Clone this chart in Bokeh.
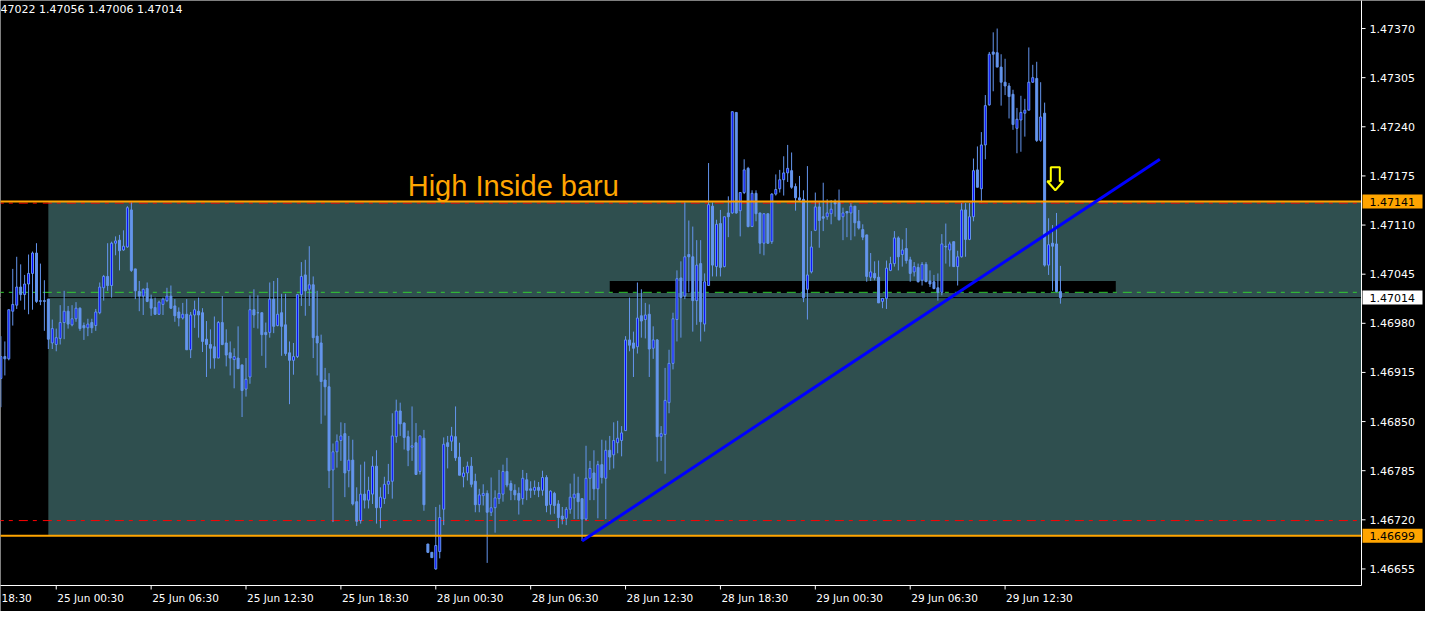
import numpy as np
from bokeh.plotting import figure
from bokeh.models import Range1d, Label, ColumnDataSource
from bokeh.core.properties import value
from bokeh.embed import file_html
from bokeh.resources import INLINE

# ---------------- data (15-minute bars, index 0 = 25 Jun 00:30) ----------------
first_bar = -14

open_ = [
    1.46907, 1.46936, 1.46933, 1.46996, 1.47004, 1.47028, 1.47018, 1.47032, 1.47046, 1.47073, 1.47009, 1.47010, 1.47012, 1.46954,
    1.46952, 1.46960, 1.46981, 1.46996, 1.46978, 1.46986, 1.47000, 1.46977, 1.46974, 1.46981,
    1.46977, 1.46994, 1.47027, 1.47042, 1.47030, 1.47086, 1.47090, 1.47077, 1.47081, 1.47130,
    1.47052, 1.47022, 1.47016, 1.47026, 1.47012, 1.47001, 1.46992, 1.47005, 1.47010, 1.47016,
    1.47003, 1.46995, 1.46987, 1.46992, 1.46945, 1.46991, 1.46996, 1.46994, 1.46959, 1.46952,
    1.46949, 1.46934, 1.46981, 1.46954, 1.46941, 1.46932, 1.46934, 1.46925, 1.46893, 1.46909,
    1.46998, 1.46994, 1.46994, 1.46968, 1.46968, 1.47012, 1.46977, 1.46994, 1.46978, 1.46941,
    1.46931, 1.46936, 1.47018, 1.47044, 1.47025, 1.47031, 1.46963, 1.46954, 1.46905, 1.46896,
    1.46786, 1.46810, 1.46825, 1.46834, 1.46785, 1.46799, 1.46744, 1.46719, 1.46754, 1.46746,
    1.46754, 1.46791, 1.46736, 1.46748, 1.46767, 1.46771, 1.46830, 1.46864, 1.46848, 1.46830,
    1.46816, 1.46822, 1.46784, 1.46828, 1.46688, 1.46677, 1.46655, 1.46678, 1.46734, 1.46822,
    1.46824, 1.46830, 1.46803, 1.46777, 1.46782, 1.46791, 1.46771, 1.46740, 1.46752, 1.46755,
    1.46730, 1.46736, 1.46748, 1.46754, 1.46784, 1.46768, 1.46759, 1.46755, 1.46748, 1.46773,
    1.46761, 1.46759, 1.46763, 1.46759, 1.46776, 1.46740, 1.46755, 1.46741, 1.46725, 1.46722,
    1.46734, 1.46749, 1.46755, 1.46748, 1.46721, 1.46775, 1.46782, 1.46761, 1.46793, 1.46775,
    1.46812, 1.46806, 1.46822, 1.46825, 1.46838, 1.46958, 1.46954, 1.46949, 1.46990, 1.46985,
    1.46992, 1.46947, 1.46958, 1.46830, 1.46833, 1.46875, 1.46927, 1.46985, 1.47040, 1.47016,
    1.47071, 1.47068, 1.47010, 1.47059, 1.46979, 1.47030, 1.47135, 1.47055, 1.47112, 1.47055,
    1.47126, 1.47126, 1.47259, 1.47129, 1.47153, 1.47185, 1.47108, 1.47152, 1.47126, 1.47086,
    1.47125, 1.47088, 1.47151, 1.47158, 1.47170, 1.47179, 1.47182, 1.47161, 1.47146, 1.47144,
    1.47025, 1.47048, 1.47103, 1.47134, 1.47121, 1.47121, 1.47125, 1.47140, 1.47140, 1.47121,
    1.47128, 1.47126, 1.47135, 1.47115, 1.47104, 1.47097, 1.47041, 1.47046, 1.47041, 1.47009,
    1.47013, 1.47050, 1.47059, 1.47093, 1.47071, 1.47079, 1.47064, 1.47048, 1.47054, 1.47037,
    1.47058, 1.47036, 1.47035, 1.47027, 1.47021, 1.47082, 1.47077, 1.47088, 1.47055, 1.47068,
    1.47130, 1.47091, 1.47121, 1.47183, 1.47158, 1.47216, 1.47269, 1.47339, 1.47338, 1.47319,
    1.47299, 1.47294, 1.47283, 1.47238, 1.47249, 1.47258, 1.47262, 1.47299, 1.47304, 1.47222,
    1.47258, 1.47057, 1.47086, 1.47085, 1.47022,
]

high = [
    1.46963, 1.46956, 1.46998, 1.47052, 1.47068, 1.47058, 1.47044, 1.47071, 1.47075, 1.47086, 1.47059, 1.47037, 1.47012, 1.46985,
    1.46973, 1.47004, 1.47023, 1.47003, 1.47004, 1.47008, 1.47001, 1.46981, 1.46986, 1.46986,
    1.46999, 1.47034, 1.47044, 1.47086, 1.47088, 1.47095, 1.47097, 1.47103, 1.47135, 1.47140,
    1.47052, 1.47036, 1.47026, 1.47034, 1.47018, 1.47014, 1.47010, 1.47014, 1.47027, 1.47030,
    1.47012, 1.47001, 1.47007, 1.47012, 1.46995, 1.47010, 1.47014, 1.47000, 1.46983, 1.46972,
    1.46989, 1.46983, 1.47016, 1.46972, 1.46956, 1.46947, 1.46976, 1.46925, 1.46934, 1.47017,
    1.47025, 1.47017, 1.46994, 1.46981, 1.47034, 1.47036, 1.47040, 1.47019, 1.47019, 1.46956,
    1.46954, 1.47019, 1.47061, 1.47064, 1.47082, 1.47042, 1.47023, 1.46965, 1.46921, 1.46914,
    1.46821, 1.46833, 1.46849, 1.46848, 1.46831, 1.46826, 1.46763, 1.46793, 1.46797, 1.46777,
    1.46804, 1.46812, 1.46763, 1.46777, 1.46794, 1.46861, 1.46879, 1.46875, 1.46849, 1.46838,
    1.46870, 1.46848, 1.46831, 1.46839, 1.46688, 1.46677, 1.46737, 1.46740, 1.46829, 1.46831,
    1.46843, 1.46870, 1.46822, 1.46790, 1.46797, 1.46803, 1.46781, 1.46761, 1.46767, 1.46759,
    1.46776, 1.46759, 1.46786, 1.46793, 1.46802, 1.46772, 1.46767, 1.46763, 1.46786, 1.46782,
    1.46771, 1.46772, 1.46770, 1.46785, 1.46779, 1.46759, 1.46757, 1.46746, 1.46737, 1.46737,
    1.46768, 1.46781, 1.46777, 1.46748, 1.46818, 1.46798, 1.46812, 1.46798, 1.46826, 1.46825,
    1.46831, 1.46849, 1.46851, 1.46844, 1.46963, 1.47014, 1.46969, 1.47034, 1.47025, 1.47007,
    1.47005, 1.46976, 1.46959, 1.46844, 1.46921, 1.46945, 1.46994, 1.47050, 1.47062, 1.47140,
    1.47116, 1.47108, 1.47090, 1.47090, 1.47046, 1.47192, 1.47140, 1.47117, 1.47130, 1.47121,
    1.47148, 1.47260, 1.47259, 1.47153, 1.47197, 1.47187, 1.47156, 1.47156, 1.47126, 1.47125,
    1.47125, 1.47152, 1.47177, 1.47183, 1.47201, 1.47216, 1.47206, 1.47165, 1.47175, 1.47156,
    1.47188, 1.47102, 1.47153, 1.47140, 1.47166, 1.47144, 1.47143, 1.47144, 1.47157, 1.47133,
    1.47128, 1.47139, 1.47135, 1.47130, 1.47111, 1.47097, 1.47073, 1.47062, 1.47063, 1.47013,
    1.47063, 1.47068, 1.47102, 1.47095, 1.47091, 1.47106, 1.47068, 1.47061, 1.47059, 1.47061,
    1.47061, 1.47050, 1.47044, 1.47046, 1.47098, 1.47112, 1.47088, 1.47088, 1.47076, 1.47139,
    1.47139, 1.47139, 1.47198, 1.47214, 1.47233, 1.47282, 1.47339, 1.47365, 1.47370, 1.47336,
    1.47330, 1.47298, 1.47289, 1.47265, 1.47281, 1.47277, 1.47345, 1.47322, 1.47326, 1.47299,
    1.47272, 1.47119, 1.47110, 1.47126, 1.47056,
]

low = [
    1.46869, 1.46911, 1.46931, 1.46977, 1.46999, 1.47010, 1.46998, 1.46992, 1.46998, 1.47007, 1.47004, 1.46970, 1.46946, 1.46946,
    1.46943, 1.46952, 1.46959, 1.46973, 1.46976, 1.46982, 1.46970, 1.46958, 1.46963, 1.46967,
    1.46970, 1.46992, 1.47010, 1.47023, 1.47014, 1.47070, 1.47050, 1.47076, 1.47080, 1.47048,
    1.47012, 1.46996, 1.46991, 1.47008, 1.46990, 1.46991, 1.46991, 1.46991, 1.47008, 1.46999,
    1.46982, 1.46976, 1.46985, 1.46945, 1.46934, 1.46974, 1.46961, 1.46942, 1.46909, 1.46920,
    1.46920, 1.46934, 1.46951, 1.46923, 1.46911, 1.46894, 1.46920, 1.46856, 1.46883, 1.46900,
    1.46974, 1.46973, 1.46937, 1.46921, 1.46961, 1.46967, 1.46976, 1.46937, 1.46937, 1.46873,
    1.46912, 1.46934, 1.47003, 1.46990, 1.47003, 1.46934, 1.46911, 1.46847, 1.46858, 1.46762,
    1.46717, 1.46789, 1.46798, 1.46750, 1.46763, 1.46739, 1.46712, 1.46715, 1.46735, 1.46735,
    1.46741, 1.46715, 1.46709, 1.46741, 1.46754, 1.46748, 1.46822, 1.46831, 1.46813, 1.46791,
    1.46798, 1.46780, 1.46780, 1.46732, 1.46676, 1.46670, 1.46654, 1.46669, 1.46713, 1.46788,
    1.46811, 1.46798, 1.46779, 1.46763, 1.46772, 1.46763, 1.46730, 1.46730, 1.46739, 1.46663,
    1.46725, 1.46703, 1.46741, 1.46744, 1.46763, 1.46746, 1.46746, 1.46727, 1.46740, 1.46746,
    1.46749, 1.46753, 1.46750, 1.46752, 1.46730, 1.46727, 1.46728, 1.46709, 1.46714, 1.46713,
    1.46728, 1.46721, 1.46721, 1.46692, 1.46719, 1.46746, 1.46746, 1.46722, 1.46768, 1.46721,
    1.46786, 1.46788, 1.46808, 1.46804, 1.46838, 1.46943, 1.46909, 1.46940, 1.46961, 1.46960,
    1.46909, 1.46933, 1.46797, 1.46798, 1.46781, 1.46861, 1.46919, 1.46956, 1.46961, 1.47012,
    1.47021, 1.46969, 1.46978, 1.46956, 1.46969, 1.47030, 1.47042, 1.47042, 1.47042, 1.47054,
    1.47094, 1.47125, 1.47125, 1.47095, 1.47151, 1.47107, 1.47108, 1.47115, 1.47072, 1.47070,
    1.47085, 1.47085, 1.47149, 1.47153, 1.47149, 1.47167, 1.47158, 1.47129, 1.47142, 1.47008,
    1.46985, 1.47046, 1.47102, 1.47080, 1.47102, 1.47117, 1.47111, 1.47121, 1.47116, 1.47090,
    1.47094, 1.47090, 1.47095, 1.47104, 1.47090, 1.47035, 1.47036, 1.47037, 1.47007, 1.47000,
    1.46999, 1.47049, 1.47055, 1.47050, 1.47055, 1.47059, 1.47035, 1.47042, 1.47034, 1.47030,
    1.47035, 1.47028, 1.47025, 1.47010, 1.47017, 1.47059, 1.47055, 1.47055, 1.47030, 1.47067,
    1.47068, 1.47090, 1.47115, 1.47160, 1.47140, 1.47197, 1.47268, 1.47287, 1.47319, 1.47268,
    1.47282, 1.47251, 1.47236, 1.47205, 1.47207, 1.47227, 1.47262, 1.47298, 1.47220, 1.47220,
    1.47055, 1.47044, 1.47023, 1.47021, 1.47006,
]

close_ = [
    1.46936, 1.46933, 1.46998, 1.47005, 1.47028, 1.47018, 1.47032, 1.47046, 1.47073, 1.47009, 1.47010, 1.47009, 1.46959, 1.46973,
    1.46961, 1.46981, 1.46996, 1.46979, 1.46986, 1.47000, 1.46973, 1.46974, 1.46979, 1.46974,
    1.46995, 1.47028, 1.47042, 1.47030, 1.47086, 1.47089, 1.47076, 1.47082, 1.47133, 1.47050,
    1.47023, 1.47016, 1.47025, 1.47009, 1.47000, 1.46992, 1.47008, 1.47012, 1.47016, 1.47000,
    1.46990, 1.46987, 1.46992, 1.46945, 1.46991, 1.46998, 1.46991, 1.46956, 1.46952, 1.46947,
    1.46934, 1.46981, 1.46952, 1.46938, 1.46934, 1.46936, 1.46920, 1.46891, 1.46906, 1.46998,
    1.46991, 1.46994, 1.46965, 1.46965, 1.47012, 1.46976, 1.46992, 1.46976, 1.46940, 1.46931,
    1.46936, 1.47018, 1.47042, 1.47023, 1.47031, 1.46961, 1.46954, 1.46903, 1.46896, 1.46785,
    1.46810, 1.46824, 1.46831, 1.46782, 1.46799, 1.46741, 1.46718, 1.46754, 1.46746, 1.46759,
    1.46791, 1.46736, 1.46750, 1.46767, 1.46771, 1.46831, 1.46864, 1.46847, 1.46829, 1.46812,
    1.46818, 1.46780, 1.46831, 1.46740, 1.46677, 1.46670, 1.46686, 1.46723, 1.46820, 1.46817,
    1.46831, 1.46802, 1.46779, 1.46782, 1.46791, 1.46767, 1.46740, 1.46753, 1.46755, 1.46730,
    1.46736, 1.46749, 1.46755, 1.46784, 1.46766, 1.46759, 1.46753, 1.46746, 1.46775, 1.46759,
    1.46759, 1.46763, 1.46759, 1.46776, 1.46739, 1.46758, 1.46739, 1.46723, 1.46721, 1.46734,
    1.46750, 1.46754, 1.46744, 1.46721, 1.46775, 1.46788, 1.46761, 1.46793, 1.46776, 1.46812,
    1.46803, 1.46825, 1.46828, 1.46835, 1.46958, 1.46951, 1.46947, 1.46987, 1.46983, 1.46991,
    1.46946, 1.46958, 1.46830, 1.46834, 1.46878, 1.46927, 1.46986, 1.47039, 1.47014, 1.47068,
    1.47068, 1.47010, 1.47057, 1.46982, 1.47035, 1.47137, 1.47057, 1.47111, 1.47054, 1.47121,
    1.47121, 1.47260, 1.47126, 1.47153, 1.47183, 1.47108, 1.47152, 1.47125, 1.47086, 1.47125,
    1.47086, 1.47151, 1.47157, 1.47170, 1.47179, 1.47185, 1.47160, 1.47146, 1.47143, 1.47014,
    1.47044, 1.47081, 1.47134, 1.47116, 1.47119, 1.47126, 1.47131, 1.47138, 1.47117, 1.47126,
    1.47126, 1.47135, 1.47113, 1.47106, 1.47094, 1.47042, 1.47048, 1.47040, 1.47007, 1.47013,
    1.47053, 1.47059, 1.47093, 1.47068, 1.47077, 1.47063, 1.47046, 1.47055, 1.47035, 1.47058,
    1.47035, 1.47032, 1.47026, 1.47021, 1.47085, 1.47081, 1.47085, 1.47055, 1.47068, 1.47130,
    1.47091, 1.47121, 1.47182, 1.47160, 1.47216, 1.47268, 1.47336, 1.47336, 1.47319, 1.47299,
    1.47294, 1.47280, 1.47243, 1.47250, 1.47259, 1.47262, 1.47299, 1.47305, 1.47222, 1.47253,
    1.47057, 1.47084, 1.47082, 1.47022, 1.47014,
]

# time scale: bar index of each label; the first one is only partly on screen ("18:30")
time_ticks = [-24, 0, 24, 48, 72, 96, 120, 144, 168, 192, 216, 240]
time_labels = ["18:30", "25 Jun 00:30", "25 Jun 06:30", "25 Jun 12:30", "25 Jun 18:30",
               "28 Jun 00:30", "28 Jun 06:30", "28 Jun 12:30", "28 Jun 18:30",
               "29 Jun 00:30", "29 Jun 06:30", "29 Jun 12:30"]
price_ticks = [1.47370, 1.47305, 1.47240, 1.47175, 1.47110, 1.47045,
               1.46980, 1.46915, 1.46850, 1.46785, 1.46720, 1.46655]
price_labels = ["1.47370", "1.47305", "1.47240", "1.47175", "1.47110", "1.47045",
                "1.46980", "1.46915", "1.46850", "1.46785", "1.46720", "1.46655"]

zone_high = 1.47141
zone_low = 1.46699
zone_start = -2
bid_price = 1.47014
green_level = 1.47021
red_level = 1.46719
red_top_level = 1.47139
box_left, box_right = 140, 268
box_bottom, box_top = 1.47020, 1.47036
trend_x = [133, 279.15]
trend_y = [1.46692, 1.47197]
arrow_x, arrow_tip = 252.7, 1.47156
header_text = "47022 1.47056 1.47006 1.47014"
note_text = "High Inside baru"
note_x, note_y = 88.9, 1.47162
marked = [(zone_high, "1.47141", "#FFA500"), (zone_low, "1.46699", "#FFA500"),
          (bid_price, "1.47014", "#FFFFFF")]

# ---------------- geometry of the MT4 window ----------------
W, H = 1425, 611
SCALE_W, TIME_H = 64, 26            # price scale column / time scale row (px)
X0, X1 = -14.1, 330.15              # visible bar range of the chart area
Y0, Y1 = 1.466331, 1.474071         # visible price range of the chart area
ux = (X1 - X0) / (W - SCALE_W)      # bar units per pixel
uy = (Y1 - Y0) / (H - TIME_H)       # price units per pixel

p = figure(width=W, height=H, output_backend="svg", toolbar_location=None,
           x_range=Range1d(X0, X0 + W * ux), y_range=Range1d(Y0 - TIME_H * uy, Y1),
           x_axis_location=None, y_axis_location=None,
           background_fill_color="#000000", border_fill_color="#000000",
           outline_line_color=None,
           min_border_left=0, min_border_top=0, min_border_right=0, min_border_bottom=0)
p.xgrid.visible = False
p.ygrid.visible = False

far_l = X0 - 50

# background objects
p.quad(left=[zone_start], right=[X1], bottom=[zone_low], top=[zone_high],
       fill_color="#2F4F4F", line_color=None)
p.quad(left=[box_left], right=[box_right], bottom=[box_bottom], top=[box_top],
       fill_color="#000000", line_color=None)

dashdot = "9 5 4 6"
p.segment(x0=[far_l], y0=[green_level], x1=[X1], y1=[green_level],
          line_color="#32CD32", line_width=1, line_dash=dashdot)
p.segment(x0=[far_l], y0=[red_level], x1=[X1], y1=[red_level],
          line_color="#FF0000", line_width=1, line_dash=dashdot)
p.segment(x0=[far_l], y0=[red_top_level], x1=[X1], y1=[red_top_level],
          line_color="#FF0000", line_width=1, line_dash=dashdot)
p.segment(x0=[far_l], y0=[bid_price], x1=[X1], y1=[bid_price],
          line_color="#000000", line_width=1)

# candles
o = np.array(open_)
c = np.array(close_)
bars = np.arange(first_bar, first_bar + len(c))
up = c > o
src = ColumnDataSource(dict(
    x=bars, high=high, low=low,
    top=np.maximum(o, c), bottom=np.minimum(o, c),
    fill=np.where(up, "#0000FF", "#6495ED"),
))
p.segment(x0="x", y0="high", x1="x", y1="low", source=src,
          line_color="#6495ED", line_width=1)
p.vbar(x="x", width=0.5, top="top", bottom="bottom", source=src,
       fill_color="fill", line_color="#6495ED", line_width=1)

# foreground objects
for lvl in (zone_high, zone_low):
    p.segment(x0=[far_l], y0=[lvl], x1=[X1], y1=[lvl],
              line_color="#FFA500", line_width=2)
p.line(x=trend_x, y=trend_y, line_color="#0000FF", line_width=3)

shape = [(0, 0), (8, 9), (4.5, 9), (4.5, 23), (-4.5, 23), (-4.5, 9), (-8, 9)]
p.patch(x=[arrow_x + dx * ux for dx, dy in shape],
        y=[arrow_tip + dy * uy for dx, dy in shape],
        fill_color="#000000", line_color="#FFFF00", line_width=2)

# ---------------- MT4 scales (right price scale, bottom time scale) ----------------
p.segment(x0=[X1], y0=[Y0], x1=[X1], y1=[Y1 + 10 * uy], line_color="#FFFFFF", line_width=1)
p.segment(x0=[far_l], y0=[Y0], x1=[X1], y1=[Y0], line_color="#FFFFFF", line_width=1)

p.segment(x0=[X1] * len(price_ticks), y0=price_ticks,
          x1=[X1 + 4 * ux] * len(price_ticks), y1=price_ticks,
          line_color="#FFFFFF", line_width=1)
p.text(x=[X1 + 8 * ux] * len(price_ticks), y=price_ticks, text=price_labels,
       text_font=value("DejaVu Sans"), text_font_size=value("11px"),
       text_color="#FFFFFF", text_align="left", text_baseline="middle")

for lvl, txt, bg in marked:
    p.quad(left=[X1 + 1 * ux], right=[X1 + 61 * ux],
           bottom=[lvl - 7 * uy], top=[lvl + 7 * uy],
           fill_color=bg, line_color=None)
    p.text(x=[X1 + 8 * ux], y=[lvl], text=[txt],
           text_font=value("DejaVu Sans"), text_font_size=value("11px"),
           text_color="#000000", text_align="left", text_baseline="middle")

visible_ticks = [t for t in time_ticks if t >= X0]
p.segment(x0=visible_ticks, y0=[Y0] * len(visible_ticks),
          x1=visible_ticks, y1=[Y0 - 4 * uy] * len(visible_ticks),
          line_color="#FFFFFF", line_width=1)
label_x = [max(t, X0) + 1 * ux for t in time_ticks]
p.text(x=label_x, y=[Y0 - 12 * uy] * len(time_ticks),
       text=time_labels, text_font=value("DejaVu Sans"), text_font_size=value("10.5px"),
       text_color="#FFFFFF", text_align="left", text_baseline="middle")

# header and note
p.add_layout(Label(x=0, x_units="screen", y=Y1, y_offset=-2, text=header_text,
                   text_align="left", text_baseline="top",
                   text_font="DejaVu Sans", text_font_size="11px",
                   text_color="#FFFFFF"))
p.add_layout(Label(x=note_x, y=note_y, text=note_text,
                   text_align="left", text_baseline="alphabetic",
                   text_font="Liberation Sans", text_font_size="29px",
                   text_color="#FFA500"))

open("out.html", "w").write(file_html(p, INLINE))
